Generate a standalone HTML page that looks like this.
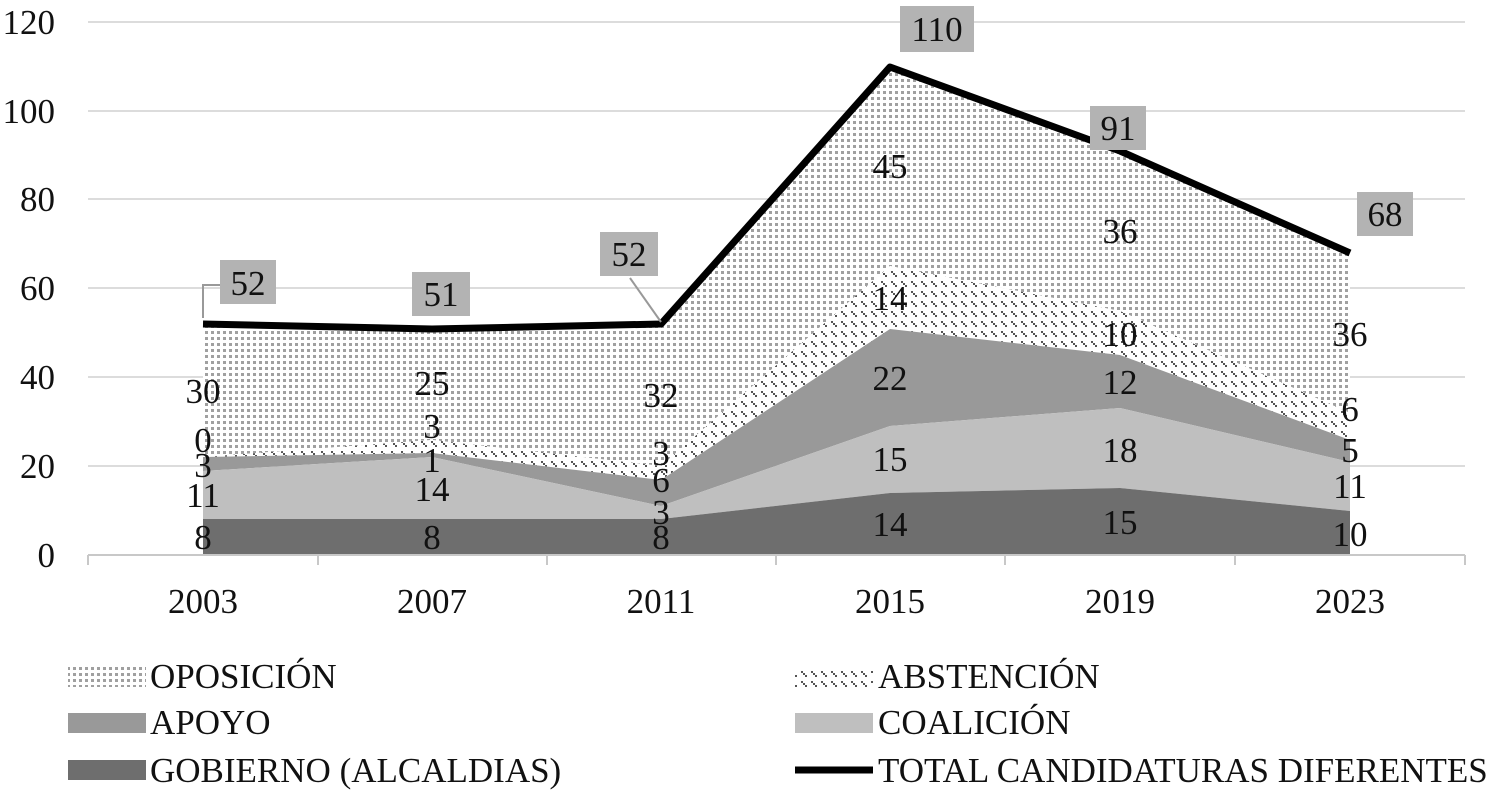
<!DOCTYPE html>
<html><head><meta charset="utf-8"><style>
body{margin:0;background:#fff;}
svg text{font-family:"Liberation Serif",serif;fill:#111;}
</style></head><body>
<svg width="1491" height="795" xmlns="http://www.w3.org/2000/svg">
<defs>
<pattern id="dots" width="6" height="6" patternUnits="userSpaceOnUse"><rect width="6" height="6" fill="#fff"/><rect x="1" y="1" width="3" height="3" fill="#a0a0a0"/></pattern>
<pattern id="dash" width="10" height="10" patternUnits="userSpaceOnUse"><rect width="10" height="10" fill="#fff"/><rect x="1" y="1" width="2" height="2" fill="#555"/><rect x="3" y="3" width="2" height="2" fill="#555"/><rect x="5" y="5" width="2" height="2" fill="#555"/></pattern>
</defs>
<g stroke="#d0d0d0" stroke-width="1.5">
<line x1="88" x2="1465" y1="22" y2="22"/><line x1="88" x2="1465" y1="111" y2="111"/><line x1="88" x2="1465" y1="199" y2="199"/><line x1="88" x2="1465" y1="288" y2="288"/><line x1="88" x2="1465" y1="377" y2="377"/><line x1="88" x2="1465" y1="466" y2="466"/>
</g>
<polygon fill="url(#dots)" points="203,324 432,329 661,324 890,67 1120,151 1350,253 1350,413 1120,311 890,266 661,466 432,440 203,457"/>
<polygon fill="url(#dash)" points="203,457 432,440 661,466 890,266 1120,311 1350,413 1350,440 1120,355 890,329 661,480 432,453 203,457"/>
<polygon fill="#999" points="203,457 432,453 661,480 890,329 1120,355 1350,440 1350,462 1120,408 890,426 661,506 432,457 203,471"/>
<polygon fill="#bfbfbf" points="203,471 432,457 661,506 890,426 1120,408 1350,462 1350,511 1120,488 890,493 661,519 432,519 203,519"/>
<polygon fill="#6e6e6e" points="203,519 432,519 661,519 890,493 1120,488 1350,511 1350,555 203,555"/>
<polyline fill="none" stroke="#000" stroke-width="7" stroke-linejoin="round" points="203,324 432,329 661,324 890,67 1120,151 1350,253"/>
<line x1="88" x2="1465" y1="555" y2="555" stroke="#c8c8c8" stroke-width="2"/>
<g stroke="#c8c8c8" stroke-width="2">
<line x1="88" x2="88" y1="555" y2="565"/><line x1="318" x2="318" y1="555" y2="565"/><line x1="547" x2="547" y1="555" y2="565"/><line x1="776" x2="776" y1="555" y2="565"/><line x1="1005" x2="1005" y1="555" y2="565"/><line x1="1235" x2="1235" y1="555" y2="565"/><line x1="1465" x2="1465" y1="555" y2="565"/>
</g>
<g font-size="35" text-anchor="end">
<text x="55" y="34">120</text><text x="55" y="123">100</text><text x="55" y="211">80</text><text x="55" y="300">60</text><text x="55" y="389">40</text><text x="55" y="478">20</text><text x="55" y="567">0</text>
</g>
<g font-size="35" text-anchor="middle">
<text x="203" y="613">2003</text><text x="432" y="613">2007</text><text x="661" y="613">2011</text><text x="890" y="613">2015</text><text x="1120" y="613">2019</text><text x="1350" y="613">2023</text>
</g>
<g font-size="35" text-anchor="middle">
<text x="203" y="403">30</text><text x="432" y="395">25</text><text x="661" y="407">32</text><text x="890" y="178">45</text><text x="1120" y="243">36</text><text x="1350" y="346">36</text>
<text x="203" y="452">0</text><text x="432" y="438">3</text><text x="661" y="465">3</text><text x="890" y="310">14</text><text x="1120" y="346">10</text><text x="1350" y="421">6</text>
<text x="203" y="477">3</text><text x="432" y="472">1</text><text x="661" y="492">6</text><text x="890" y="390">22</text><text x="1120" y="394">12</text><text x="1350" y="462">5</text>
<text x="203" y="507">11</text><text x="432" y="501">14</text><text x="661" y="524">3</text><text x="890" y="471">15</text><text x="1120" y="462">18</text><text x="1350" y="498">11</text>
<text x="203" y="549">8</text><text x="432" y="549">8</text><text x="661" y="549">8</text><text x="890" y="536">14</text><text x="1120" y="534">15</text><text x="1350" y="546">10</text>
</g>
<polyline points="203,318 203,285 220,285" fill="none" stroke="#999" stroke-width="2"/>
<line x1="661" y1="322" x2="630" y2="278" stroke="#999" stroke-width="2"/>
<g fill="#b3b3b3">
<rect x="220" y="260" width="56" height="44"/><rect x="412" y="272" width="58" height="44"/><rect x="600" y="232" width="58" height="44"/><rect x="900" y="6" width="74" height="46"/><rect x="1090" y="106" width="56" height="44"/><rect x="1357" y="192" width="56" height="44"/>
</g>
<g font-size="35" text-anchor="middle">
<text x="248" y="295">52</text><text x="441" y="306">51</text><text x="629" y="266">52</text><text x="937" y="41">110</text><text x="1118" y="140">91</text><text x="1385" y="226">68</text>
</g>
<rect x="68" y="667" width="78" height="20" fill="url(#dots)"/>
<rect x="795" y="667" width="78" height="20" fill="url(#dash)"/>
<rect x="68" y="713" width="78" height="20" fill="#999"/>
<rect x="795" y="713" width="78" height="20" fill="#bfbfbf"/>
<rect x="68" y="760" width="78" height="20" fill="#6e6e6e"/>
<line x1="795" x2="873" y1="770" y2="770" stroke="#000" stroke-width="7"/>
<g font-size="35">
<text x="150" y="688">OPOSICIÓN</text><text x="878" y="688">ABSTENCIÓN</text>
<text x="150" y="734">APOYO</text><text x="878" y="734">COALICIÓN</text>
<text x="150" y="782">GOBIERNO (ALCALDIAS)</text><text x="878" y="782">TOTAL CANDIDATURAS DIFERENTES</text>
</g>
</svg>
</body></html>
